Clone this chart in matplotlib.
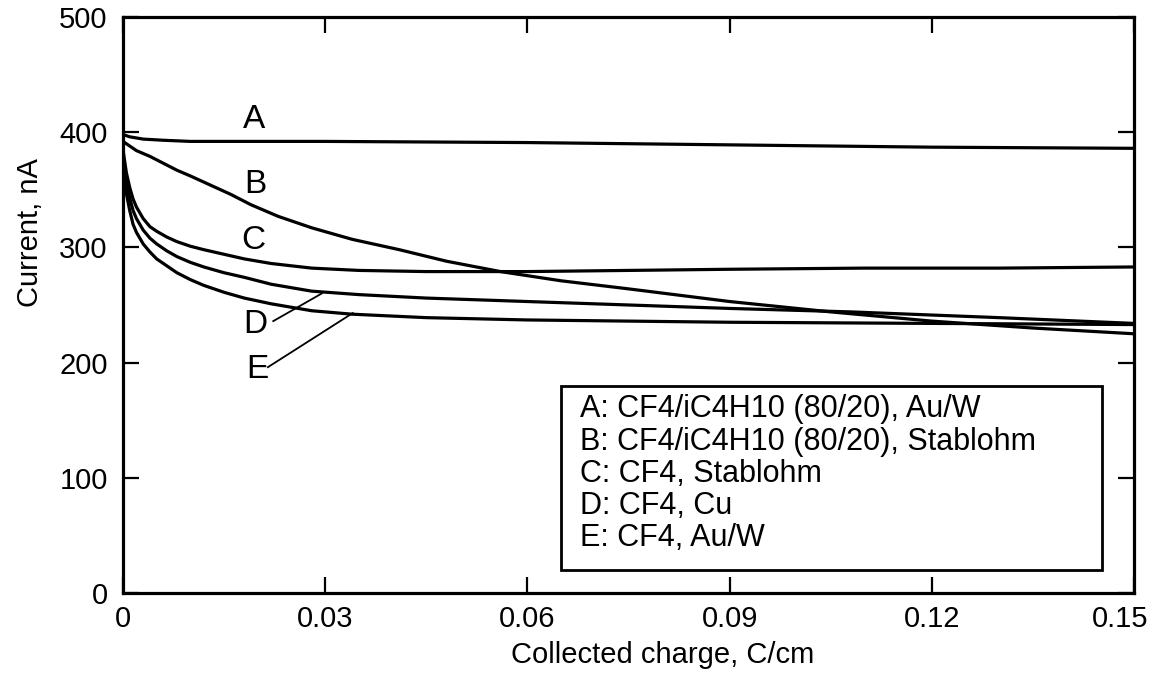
import matplotlib
matplotlib.use('Agg')
import matplotlib.pyplot as plt
from matplotlib.patches import Rectangle
from matplotlib.transforms import ScaledTranslation

plt.rcParams['font.family'] = ['Liberation Sans', 'DejaVu Sans']

# Data (collected charge in C/cm, current in nA)
x_a = [0, 0.001, 0.003, 0.006, 0.01, 0.03, 0.06, 0.09, 0.12, 0.15]
y_a = [398, 396, 394, 393, 392, 392, 391, 389, 387, 386]

x_b = [0, 0.001, 0.002, 0.004, 0.006, 0.008, 0.010, 0.013, 0.016, 0.019,
       0.023, 0.028, 0.034, 0.041, 0.048, 0.056, 0.065, 0.075, 0.09, 0.105,
       0.12, 0.135, 0.15]
y_b = [392, 388, 384, 379, 373, 367, 362, 354, 346, 337,
       327, 317, 307, 298, 288, 279, 271, 264, 253, 244,
       236, 230, 225]

x_c = [0, 0.0005, 0.001, 0.0015, 0.002, 0.003, 0.004, 0.005, 0.0065, 0.008,
       0.010, 0.012, 0.015, 0.018, 0.022, 0.028, 0.035, 0.045, 0.06, 0.075,
       0.09, 0.11, 0.13, 0.15]
y_c = [385, 365, 352, 342, 335, 325, 318, 314, 309, 305,
       301, 298, 294, 290, 286, 282, 280, 279, 279, 280,
       281, 282, 282, 283]

x_d = [0, 0.0005, 0.001, 0.0015, 0.002, 0.003, 0.004, 0.005, 0.0065, 0.008,
       0.010, 0.012, 0.015, 0.018, 0.022, 0.028, 0.035, 0.045, 0.06, 0.075,
       0.09, 0.108, 0.13, 0.15]
y_d = [378, 357, 343, 332, 325, 315, 308, 303, 297, 292,
       287, 283, 278, 274, 268, 262, 259, 256, 253, 250,
       247, 244, 239, 234]

x_e = [0, 0.0005, 0.001, 0.0015, 0.002, 0.003, 0.004, 0.005, 0.0065, 0.008,
       0.010, 0.012, 0.015, 0.018, 0.022, 0.028, 0.034, 0.045, 0.06, 0.09,
       0.12, 0.15]
y_e = [370, 347, 332, 320, 313, 303, 296, 290, 284, 278,
       272, 267, 261, 256, 251, 245, 242, 239, 237, 235,
       234, 233]

x_ticks = [0, 0.03, 0.06, 0.09, 0.12, 0.15]
x_tick_labels = ['0', '0.03', '0.06', '0.09', '0.12', '0.15']
y_ticks = [0, 100, 200, 300, 400, 500]

legend_lines = ['A: CF4/iC4H10 (80/20), Au/W',
                'B: CF4/iC4H10 (80/20), Stablohm',
                'C: CF4, Stablohm',
                'D: CF4, Cu',
                'E: CF4, Au/W']

fig = plt.figure(figsize=(11.59, 6.8), dpi=100)
ax = fig.add_axes([0.1061, 0.128, 0.8723, 0.847])

lw = 2.3
for xs, ys in [(x_a, y_a), (x_b, y_b), (x_c, y_c), (x_d, y_d), (x_e, y_e)]:
    ax.plot(xs, ys, color='black', linewidth=lw, solid_joinstyle='round')

ax.set_xlim(0, 0.15)
ax.set_ylim(0, 500)
ax.set_xticks(x_ticks)
ax.set_xticklabels(x_tick_labels)
ax.set_yticks(y_ticks)

for s in ax.spines.values():
    s.set_linewidth(2.3)

ax.tick_params(axis='both', direction='in', length=11.5, width=1.6,
               top=True, right=True, labelsize=21)
ax.tick_params(axis='x', pad=9)
ax.tick_params(axis='y', pad=11)

# last x label sits a bit left of its tick, as in the original
last = ax.get_xticklabels()[-1]
last.set_transform(last.get_transform() + ScaledTranslation(-0.14, 0, fig.dpi_scale_trans))

# curve labels
ax.text(0.0194, 411, 'A', fontsize=24, ha='center', va='center')
ax.text(0.0196, 355, 'B', fontsize=24, ha='center', va='center')
ax.text(0.0194, 306, 'C', fontsize=24, ha='center', va='center')
ax.text(0.0197, 233, 'D', fontsize=24, ha='center', va='center')
ax.text(0.0199, 194, 'E', fontsize=24, ha='center', va='center')
ax.plot([0.0223, 0.0295], [236, 260], color='black', linewidth=1.3)
ax.plot([0.0215, 0.0341], [196, 243], color='black', linewidth=1.3)

# legend box
ax.add_patch(Rectangle((0.433, 0.04), 0.535, 0.32, transform=ax.transAxes,
                       fill=True, facecolor='white', edgecolor='black',
                       linewidth=2.0, zorder=3))
ax.text(0.452, 0.345, '\n'.join(legend_lines), transform=ax.transAxes,
        fontsize=22, ha='left', va='top', linespacing=1.1, zorder=4)

ax.text(0.534, -0.108, 'Collected charge, C/cm', transform=ax.transAxes,
        fontsize=21, ha='center', va='center')
ax.text(-0.092, 0.625, 'Current, nA', transform=ax.transAxes,
        fontsize=21, ha='center', va='center', rotation=90)

fig.savefig('out.png', dpi=100)
